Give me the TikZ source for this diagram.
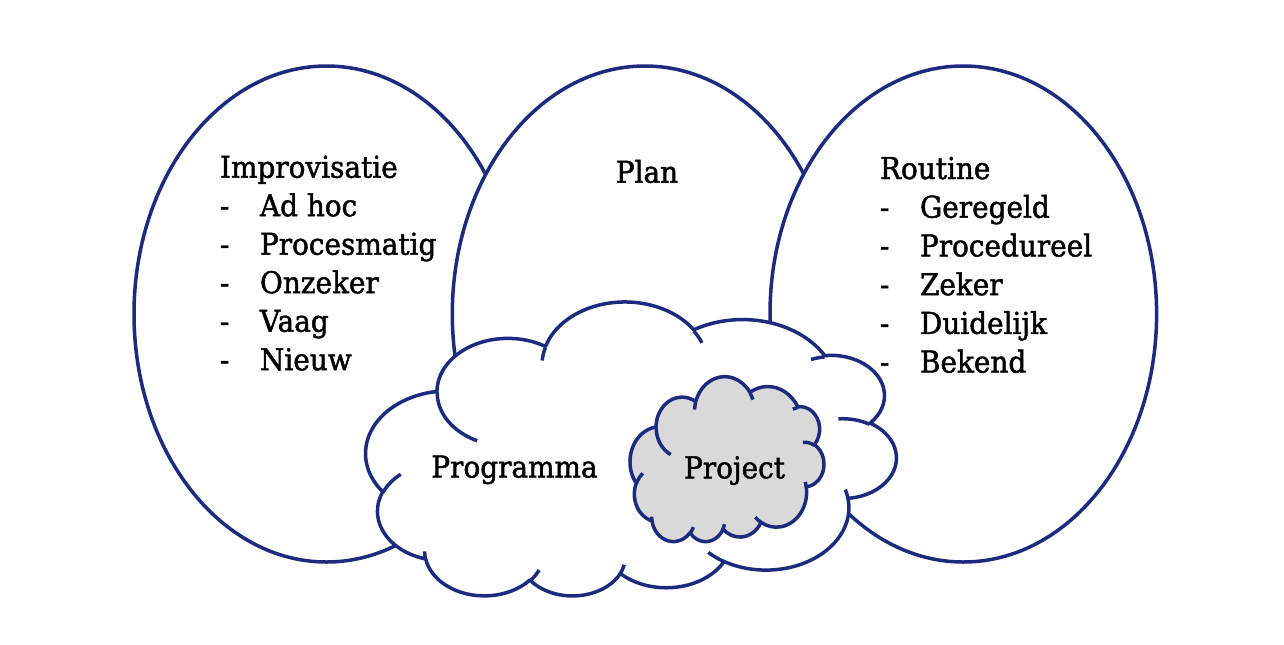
\documentclass[tikz,border=0pt]{standalone}
\usepackage{fontspec}
\setmainfont[FakeBold=1.5,FakeStretch=0.93]{DejaVu Serif}
\definecolor{navy}{RGB}{28,43,126}
\definecolor{cloudgray}{RGB}{217,217,217}
% Office-style arc: wR, hR, visual start angle, visual sweep (path units /10)
\newcommand\oa[4]{arc[x radius={#1*\csx}, y radius={#2*\csy},
  start angle={180-atan2(#1*sin(#3),#2*cos(#3))},
  delta angle={-Mod(atan2(#1*sin(#3+#4),#2*cos(#3+#4))-atan2(#1*sin(#3),#2*cos(#3)),360)}]}
\newcommand\cloudoutline{(-390.0,1437.0)
  \oa{675.3}{919.0}{-190.4875}{123.7805}
  \oa{533.3}{726.7}{-144.1024}{89.9452}
  \oa{436.5}{594.5}{-145.8079}{99.7230}
  \oa{485.7}{659.5}{-130.9861}{117.2417}
  \oa{533.3}{727.3}{-78.7089}{109.0269}
  \oa{677.5}{922.0}{-46.2673}{130.2690}
  \oa{578.5}{786.7}{0.6250}{114.0333}
  \oa{675.2}{921.5}{22.4516}{115.1726}
  \oa{772.0}{1054.3}{66.2426}{75.7110}
  \oa{436.0}{591.8}{-274.9421}{146.7356}
  \oa{434.5}{594.5}{-246.8285}{152.5189} -- cycle}
\newcommand\cloudinner{(-469.3,2617.7) \oa{434.5}{594.5}{86.7420}{26.4295}
  (-692.8,3489.9) \oa{436.0}{591.8}{73.6105}{11.4475}
  (-1647.8,3909.0) \oa{675.2}{921.5}{137.6242}{14.0811}
  (-2882.7,3475.1) \oa{675.2}{921.5}{6.4533}{15.9984}
  (-3412.9,2295.4) \oa{578.5}{786.7}{-70.2924}{70.9174}
  (-4179.8,1535.4) \oa{533.3}{727.3}{30.3180}{27.7515}
  (-3832.4,542.6) \oa{485.7}{659.5}{-13.7443}{14.8589}
  (-2907.8,395.2) \oa{485.7}{659.5}{-149.1815}{18.1954}
  (-2214.1,472.0) \oa{436.5}{594.5}{-163.4943}{17.6864}
  (-1400.0,519.2) \oa{675.3}{919.0}{-66.7070}{12.3194}
  (-412.7,1578.9) \oa{675.3}{919.0}{157.6544}{11.8582}}
\begin{document}
\begin{tikzpicture}[x=0.5pt,y=-0.5pt,
  ell/.style={draw=navy,line width=1.75pt,fill=white},
  cloudline/.style={draw=navy,line width=1.75pt,line join=round},
  lbl/.style={inner sep=0pt,outer sep=0pt,font=\fontsize{15}{18}\selectfont,text=black},
  item/.style={lbl,anchor=base west}]
\useasboundingbox[fill=white] (0,0) rectangle (1284,644);
% ellipses
\path[ell] (326.5,314) ellipse[x radius=192.5, y radius=248];
\path[ell] (644.8,314) ellipse[x radius=192.5, y radius=248];
\path[ell] (963.3,314) ellipse[x radius=193.3, y radius=248];
% big cloud
\begin{scope}[shift={(896.0,596.9)},x=0.061366pt,y=0.034005pt]
  \def\csx{0.061366pt}\def\csy{0.034005pt}
  \path[fill=white] \cloudoutline;
  \path[cloudline] \cloudoutline;
  \path[cloudline] \cloudinner;
\end{scope}
% small cloud
\begin{scope}[shift={(823.85,542.2)},x=0.022425pt,y=0.019086pt]
  \def\csx{0.022425pt}\def\csy{0.019086pt}
  \path[fill=cloudgray] \cloudoutline;
  \path[cloudline] \cloudoutline;
  \path[cloudline] \cloudinner;
\end{scope}
% texts
\node[item] (imp) at (220,177.7) {Improvisatie};
\node[item] (imp1) at (220,216.2) {\makebox[20pt][l]{-}Ad hoc};
\node[item] (imp2) at (220,254.7) {\makebox[20pt][l]{-}Procesmatig};
\node[item] (imp3) at (220,293.2) {\makebox[20pt][l]{-}Onzeker};
\node[item] (imp4) at (220,331.7) {\makebox[20pt][l]{-}Vaag};
\node[item] (imp5) at (220,370.2) {\makebox[20pt][l]{-}Nieuw};
\node[item] (rou) at (880,179.0) {Routine};
\node[item] (rou1) at (880,217.7) {\makebox[20pt][l]{-}Geregeld};
\node[item] (rou2) at (880,256.4) {\makebox[20pt][l]{-}Procedureel};
\node[item] (rou3) at (880,295.1) {\makebox[20pt][l]{-}Zeker};
\node[item] (rou4) at (880,333.8) {\makebox[20pt][l]{-}Duidelijk};
\node[item] (rou5) at (880,372.5) {\makebox[20pt][l]{-}Bekend};
\node[lbl,anchor=base] (plan) at (647,182.7) {Plan};
\node[lbl,anchor=base] (prog) at (514.5,477.5) {Programma};
\node[lbl,anchor=base] (proj) at (734.5,478.3) {Project};
\end{tikzpicture}
\end{document}
